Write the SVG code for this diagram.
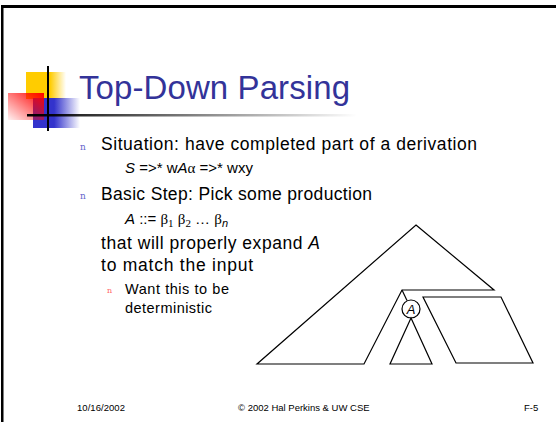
<svg xmlns="http://www.w3.org/2000/svg" width="556" height="422" viewBox="0 0 556 422">
  <style>
    text { font-family: "Liberation Sans", Arial, sans-serif; fill: #000; }
    .title { font-size: 33px; fill: #333399; }
    .body { font-size: 17.5px; }
    .math { font-size: 15px; }
    .sub { font-size: 14.5px; }
    .foot { font-size: 9.5px; }
    .bul { font-family: "DejaVu Serif", serif; font-size: 9px; fill: #6666cc; }
    .bul2 { font-family: "DejaVu Serif", serif; font-size: 8px; fill: #ff6666; }
    .sym { font-family: "Liberation Serif", serif; }
    .it { font-style: italic; }
    .edge { fill: none; stroke: #000; stroke-width: 1.2; stroke-linejoin: miter; }
  </style>
  <defs>
    <linearGradient id="fadeYellow" x1="0" y1="0" x2="1" y2="0">
      <stop offset="0.6" stop-color="#ffcc00"/>
      <stop offset="1" stop-color="#ffcc00" stop-opacity="0"/>
    </linearGradient>
    <linearGradient id="fadeBlue" x1="0" y1="0" x2="1" y2="0">
      <stop offset="0.45" stop-color="#3333cc"/>
      <stop offset="1" stop-color="#3333cc" stop-opacity="0"/>
    </linearGradient>
    <linearGradient id="fadeRed" x1="1" y1="0" x2="0" y2="1">
      <stop offset="0" stop-color="#ff0000"/>
      <stop offset="1" stop-color="#ff0000" stop-opacity="0.05"/>
    </linearGradient>
    <linearGradient id="rule" x1="0" y1="0" x2="1" y2="0">
      <stop offset="0" stop-color="#000"/>
      <stop offset="1" stop-color="#000" stop-opacity="0"/>
    </linearGradient>
  </defs>

  <rect width="556" height="422" fill="#fff"/>

  <!-- slide frame -->
  <g id="frame" fill="#000">
    <rect x="1" y="5" width="555" height="3"/>
    <rect x="1" y="5" width="2.5" height="417"/>
  </g>

  <!-- title ornament -->
  <g id="logo">
    <rect x="26" y="72" width="40" height="27" fill="url(#fadeYellow)"/>
    <rect x="33" y="98" width="47" height="30" fill="url(#fadeBlue)"/>
    <rect x="8" y="93" width="36" height="27" fill="url(#fadeRed)"/>
    <rect x="27" y="114" width="330" height="2.5" fill="url(#rule)"/>
    <rect x="47" y="66" width="2" height="65" fill="#000"/>
  </g>

  <g id="title">
    <text class="title" x="79" y="99" textLength="271">Top-Down Parsing</text>
  </g>

  <!-- bullet text -->
  <g id="bullets">
    <text class="bul" x="80" y="150">n</text>
    <text class="body" x="101" y="150" textLength="376">Situation: have completed part of a derivation</text>
    <text class="math" x="125" y="173"><tspan class="it">S</tspan> =&gt;* w<tspan class="it">A</tspan><tspan class="sym">α</tspan> =&gt;* wxy</text>
    <text class="bul" x="80" y="199">n</text>
    <text class="body" x="101" y="200" textLength="271">Basic Step: Pick some production</text>
    <text class="math" x="125" y="224"><tspan class="it">A</tspan> ::= <tspan class="sym">β</tspan><tspan class="sym" font-size="11" dy="3">1</tspan><tspan dy="-3"> </tspan><tspan class="sym">β</tspan><tspan class="sym" font-size="11" dy="3">2</tspan><tspan dy="-3"> … </tspan><tspan class="sym">β</tspan><tspan class="it" font-size="11" dy="3">n</tspan></text>
    <text class="body" x="101" y="249" textLength="219">that will properly expand <tspan class="it">A</tspan></text>
    <text class="body" x="101" y="271" textLength="152">to match the input</text>
    <text class="bul2" x="107" y="293">n</text>
    <text class="sub" x="125" y="294" textLength="104">Want this to be</text>
    <text class="sub" x="125" y="313" textLength="87">deterministic</text>
  </g>

  <!-- parse tree sketch -->
  <g id="tree-outer">
    <path class="edge" d="M416,225 L494,290 L402,290 L364,364 L257,364 Z"/>
  </g>
  <g id="node-A">
    <circle class="edge" cx="411" cy="309" r="9"/>
    <text class="it" x="411" y="314" text-anchor="middle" font-size="13">A</text>
  </g>
  <g id="tree-A">
    <path class="edge" d="M411,318 L390,364 L432,364 Z"/>
  </g>
  <g id="tree-rest">
    <path class="edge" d="M423,297 L501,297 L533,363 L456,363 Z"/>
  </g>
  <g id="connectors">
    <line class="edge" x1="402" y1="290" x2="407" y2="300.5"/>
  </g>

  <g id="footer">
    <text class="foot" x="77" y="411" textLength="48">10/16/2002</text>
    <text class="foot" x="238" y="411">© 2002 Hal Perkins &amp; UW CSE</text>
    <text class="foot" x="524" y="411" font-size="10.5">F-5</text>
  </g>
</svg>
